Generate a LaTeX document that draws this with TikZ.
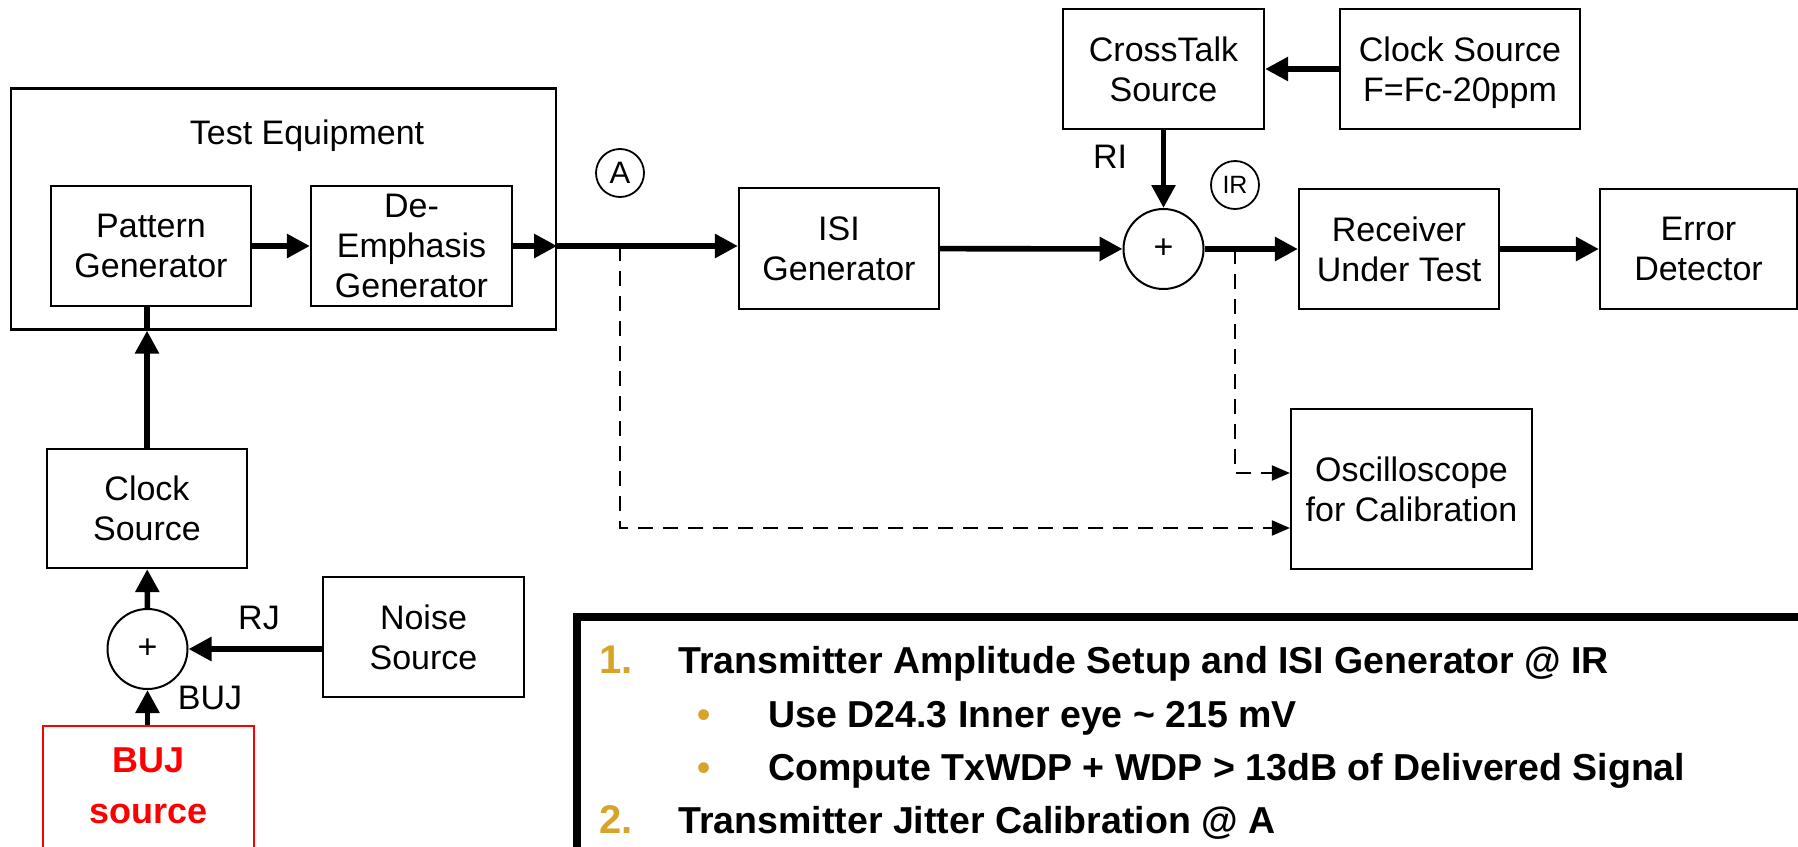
\documentclass[tikz,border=0pt]{standalone}
\usepackage{fontspec}
\setmainfont{Liberation Sans}
\usetikzlibrary{arrows.meta,calc}
\definecolor{gold}{RGB}{214,164,42}
\newcommand{\diagfont}{\fontsize{17pt}{20pt}\selectfont}
\newcommand{\pfont}{\fontsize{18.75pt}{22pt}\selectfont\bfseries}
\newcommand{\numfont}{\fontsize{20pt}{22pt}\selectfont\bfseries}
\newcommand{\bujfont}{\fontsize{18pt}{25.5pt}\selectfont\bfseries}
\begin{document}
\begin{tikzpicture}[x=0.5pt,y=-0.5pt,
  box/.style={draw,line width=1.1pt,minimum width=100pt,minimum height=60pt,align=center,font=\diagfont,inner sep=0pt,text depth=0pt},
  lbl/.style={inner sep=0pt,font=\diagfont,text depth=0pt},
  sumc/.style={circle,draw,line width=1pt,minimum size=40pt,inner sep=0pt,font=\diagfont,text depth=0pt},
  tagc/.style={circle,draw,line width=0.9pt,minimum size=24pt,inner sep=0pt,text depth=0pt},
  tharr/.style={line width=2.8pt,-{Triangle[length=11.5pt,width=11.5pt]}},
  thln/.style={line width=2.8pt},
  dasharr/.style={line width=1pt,dash pattern=on 7.5pt off 5pt,-{Triangle[length=9pt,width=7.5pt]}},
  ptext/.style={anchor=base west,inner sep=0pt,font=\pfont}
]
\useasboundingbox (0,0) rectangle (1798,846);
% Test equipment
\node[box,minimum width=272.5pt,minimum height=120.5pt] (te) at (283.5,209) {};
\node[lbl] (tetitle) at (307,132) {Test Equipment};
\node[box] (pg) at (151,246) {Pattern\\Generator};
\node[box,minimum width=100.5pt] (de) at (411.5,246) {De-\\Emphasis\\Generator};
\node[box,minimum height=60.5pt] (isi) at (839,248.5) {ISI\\Generator};
\node[sumc] (s1) at (1163.5,249) {+};
\node[box,minimum width=100.5pt] (ct) at (1163.5,69) {CrossTalk\\Source};
\node[box,minimum width=120pt] (cf) at (1460,69) {Clock Source\\F=Fc-20ppm};
\node[box] (rx) at (1399,249) {Receiver\\Under Test};
\node[box,minimum width=98.5pt] (ed) at (1698.5,249) {Error\\Detector};
\node[box,minimum width=120.5pt,minimum height=80pt] (osc) at (1411.5,489) {Oscilloscope\\for Calibration};
\node[box,minimum height=59.5pt] (clk) at (147,508.5) {Clock\\Source};
\node[sumc] (s2) at (147.5,649) {+};
\node[box,minimum width=100.5pt] (ns) at (423.5,637) {Noise\\Source};
\node[draw=red,line width=1.1pt,minimum width=105.5pt,minimum height=120pt,inner sep=0pt] (buj) at (148.5,846) {};
\node[anchor=north,align=center,inner sep=0pt,text=red,font=\bujfont] (bujtxt) at (148.5,747) {BUJ\\source};
\node[tagc,font=\fontsize{15.5pt}{18pt}\selectfont] (ca) at (620,173) {A};
\node[tagc,font=\fontsize{12.5pt}{14pt}\selectfont] (cir) at (1235,185) {IR};
% labels
\node[lbl] (rj) at (259,618) {RJ};
\node[lbl] (bujl) at (210,698) {BUJ};
\node[lbl] (ri) at (1110,157) {RI};
% connectors
\draw[tharr] (pg) -- (de);
\coordinate (teout) at (te.east |- de);
\draw[tharr] (de) -- (teout);
\draw[tharr] (teout) -- (teout -| isi.west);
\draw[tharr] (isi) -- (s1);
\draw[tharr] (ct) -- (s1);
\draw[tharr] (cf) -- (ct);
\draw[tharr] (s1) -- (rx);
\draw[tharr] (rx) -- (ed);
\coordinate (tapA) at (ca |- teout);
\coordinate (tapR) at (cir |- s1);
\draw[dasharr] (tapA) |- ($(osc.west)+(0,39)$);
\draw[dasharr] (tapR) |- ($(osc.west)+(0,-16)$);
\coordinate (tein) at (clk.north |- te.south);
\draw[tharr] (clk) -- (tein);
\draw[thln] (tein) -- (tein |- pg.south);
\draw[tharr] (s2) -- (clk);
\draw[tharr] (ns.west |- s2) -- (s2);
\draw[tharr] (s2 |- buj.north) -- (s2);
% instruction panel
\node[draw,line width=4pt,anchor=north west,minimum width=700pt,minimum height=200pt,inner sep=0pt] (panel) at (573,613) {};
\node[ptext,text=gold,font=\numfont] (n1) at (599,673) {1.};
\node[ptext] (t1) at (678,673) {Transmitter Amplitude Setup and ISI Generator @ IR};
\node[ptext,anchor=base,text=gold] (b1) at (704,727) {•};
\node[ptext] (t2) at (768,727) {Use D24.3 Inner eye \textasciitilde{} 215 mV};
\node[ptext,anchor=base,text=gold] (b2) at (704,780) {•};
\node[ptext] (t3) at (768,780) {Compute TxWDP + WDP > 13dB of Delivered Signal};
\node[ptext,text=gold,font=\numfont] (n2) at (599,833) {2.};
\node[ptext] (t4) at (678,833) {Transmitter Jitter Calibration @ A};
\end{tikzpicture}
\end{document}
